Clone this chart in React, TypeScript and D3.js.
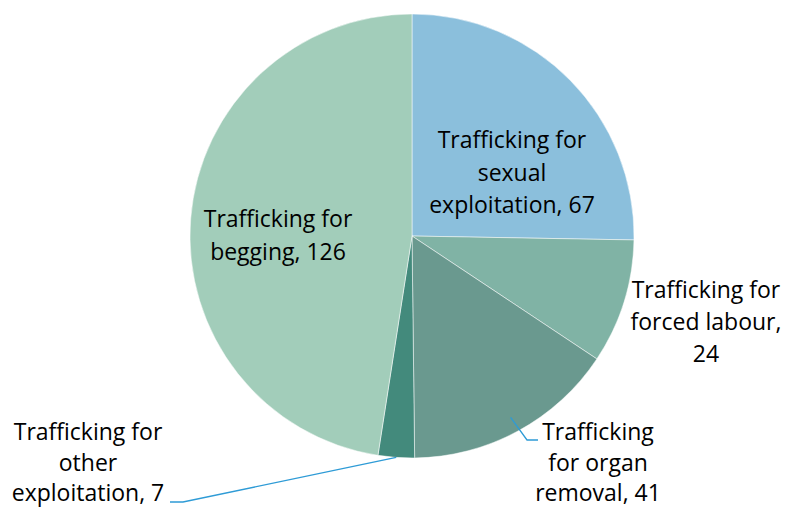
import React, { useEffect, useRef } from 'react';
import * as d3 from 'd3';

const categories = [
  'Trafficking for sexual exploitation',
  'Trafficking for forced labour',
  'Trafficking for organ removal',
  'Trafficking for other exploitation',
  'Trafficking for begging',
];
const values = [67, 24, 41, 7, 126];
const colors = ['#8bbfdc', '#80b3a5', '#6a998f', '#438a7c', '#a2cdba'];
// label text lines per slice
const labelLines = [
  ['Trafficking for', 'sexual', 'exploitation, 67'],
  ['Trafficking for', 'forced labour,', '24'],
  ['Trafficking', 'for organ', 'removal, 41'],
  ['Trafficking for', 'other', 'exploitation, 7'],
  ['Trafficking for', 'begging, 126'],
];

const width = 785;
const height = 511;

function App() {
  const svgRef = useRef<SVGSVGElement | null>(null);

  useEffect(() => {
    const cx = 412;
    const cy = 236;
    const r = 222;
    const svgEl = d3.select(svgRef.current);
    svgEl.selectAll('*').remove();
    const g = svgEl.append('g').attr('transform', `translate(${cx},${cy})`);

    const data = categories.map((name, i) => ({ name, value: values[i], i }));
    const pie = d3.pie<any>().sort(null).value((d) => d.value);
    const arcs = pie(data);
    const arc = d3.arc<any>().innerRadius(0).outerRadius(r);

    g.selectAll('path.slice')
      .data(arcs)
      .enter()
      .append('path')
      .attr('class', 'slice')
      .attr('d', arc)
      .attr('fill', (d) => colors[d.data.i])
      .attr('stroke', '#ffffff')
      .attr('stroke-width', 0.5);

    // label placement (relative to pie centre), leader lines for outside labels
    const labelPos = [
      { x: 100, y: -88, lh: 32.5 },
      { x: 294, y: 62, lh: 32 },
      { x: 186, y: 204, lh: 30.5, elbow: [115, 204], lead: 0.93 },
      { x: -324, y: 204, lh: 30.5, elbow: [-229, 266], lead: 1 },
      { x: -134, y: -9, lh: 32.5 },
    ];

    arcs.forEach((a, k) => {
      const p: any = labelPos[k];
      const lines = labelLines[k];
      const t = g
        .append('text')
        .attr('text-anchor', 'middle')
        .attr('font-family', 'Open Sans, sans-serif')
        .attr('font-size', 23)
        .attr('fill', '#000');
      lines.forEach((ln, j) => {
        t.append('tspan').attr('x', p.x).attr('y', p.y + j * p.lh).text(ln);
      });

      if (p.elbow) {
        const mid = (a.startAngle + a.endAngle) / 2;
        const sx = Math.sin(mid) * r * (p.lead || 1);
        const sy = -Math.cos(mid) * r * (p.lead || 1);
        const ex = p.elbow[0];
        const ey = p.elbow[1];
        const hx = k === 2 ? ex + 11 : ex - 13;
        g.append('path')
          .attr('d', d3.line()([[sx, sy], [ex, ey], [hx, ey]]))
          .attr('fill', 'none')
          .attr('stroke', '#2e9bd6')
          .attr('stroke-width', 1.3);
      }
    });
  }, []);

  return (
    <svg
      ref={svgRef}
      width={width}
      height={height}
      style={{ position: 'absolute', left: 0, top: 0, background: '#fff' }}
    />
  );
}

export default App;
